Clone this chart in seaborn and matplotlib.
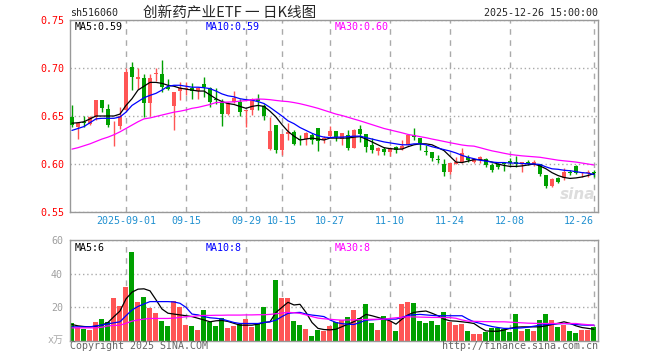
import numpy as np
import pandas as pd
import seaborn as sns
import matplotlib.pyplot as plt

sns.set_style('white')
plt.rcParams['font.family'] = ['DejaVu Sans Mono', 'Noto Sans CJK SC']

# daily K-line data, 2025-08-19 .. 2025-12-26
opens = [0.649, 0.6382, 0.644, 0.6417, 0.6493, 0.6667, 0.6573, 0.6392, 0.6396, 0.6563, 0.7007,
         0.6885, 0.690, 0.6632, 0.6938, 0.6938, 0.6806, 0.6608, 0.676, 0.6778, 0.6788, 0.6764,
         0.6833, 0.6788, 0.667, 0.665, 0.6517, 0.665, 0.665, 0.6552, 0.6563, 0.6674, 0.6604,
         0.6157, 0.6406, 0.6146, 0.6309, 0.6337, 0.6254, 0.6261, 0.6302, 0.6372, 0.625, 0.6292,
         0.6344, 0.6257, 0.6302, 0.617, 0.6361, 0.6313, 0.6198, 0.6139, 0.6153, 0.6129, 0.6174,
         0.6153, 0.6198, 0.6302, 0.6267, 0.6129, 0.6129, 0.6049, 0.600, 0.592, 0.600, 0.6025,
         0.6076, 0.6024, 0.6042, 0.6049, 0.599, 0.600, 0.6007, 0.6035, 0.6024, 0.600, 0.6017,
         0.599, 0.5999, 0.5885, 0.5771, 0.5851, 0.5851, 0.592, 0.5979, 0.5903, 0.5903, 0.592]
highs = [0.6615, 0.6435, 0.650, 0.6497, 0.6667, 0.6667, 0.662, 0.6452, 0.659, 0.6997, 0.706,
         0.6997, 0.6934, 0.6934, 0.6997, 0.7083, 0.689, 0.6747, 0.685, 0.6854, 0.684, 0.680,
         0.691, 0.6806, 0.679, 0.6674, 0.6649, 0.6764, 0.6674, 0.656, 0.6684, 0.673, 0.6621,
         0.649, 0.6406, 0.6313, 0.6424, 0.6354, 0.6302, 0.6337, 0.632, 0.6372, 0.6292, 0.6396,
         0.6344, 0.6327, 0.6354, 0.6361, 0.6406, 0.6313, 0.6267, 0.6174, 0.6174, 0.6174, 0.6188,
         0.625, 0.6302, 0.6372, 0.6267, 0.6198, 0.6129, 0.6094, 0.6049, 0.6007, 0.6076, 0.6163,
         0.6094, 0.6059, 0.6083, 0.6059, 0.6007, 0.6014, 0.6014, 0.6059, 0.6083, 0.6017, 0.6042,
         0.6042, 0.5999, 0.5885, 0.5851, 0.5868, 0.5955, 0.5938, 0.599, 0.592, 0.5938, 0.5938]
lows = [0.639, 0.626, 0.639, 0.6407, 0.646, 0.6538, 0.639, 0.619, 0.636, 0.6563, 0.677,
        0.678, 0.649, 0.650, 0.686, 0.675, 0.677, 0.6355, 0.6667, 0.6719, 0.668, 0.668,
        0.6701, 0.6597, 0.663, 0.6396, 0.651, 0.6632, 0.650, 0.639, 0.651, 0.656, 0.646,
        0.615, 0.6118, 0.6094, 0.625, 0.6198, 0.6198, 0.6198, 0.6208, 0.614, 0.6222, 0.6285,
        0.6243, 0.6198, 0.6146, 0.6163, 0.6233, 0.6129, 0.6111, 0.6094, 0.6094, 0.6083, 0.6111,
        0.6146, 0.6198, 0.625, 0.6146, 0.6094, 0.6035, 0.6007, 0.5878, 0.5899, 0.600, 0.6007,
        0.6024, 0.6007, 0.6007, 0.5972, 0.592, 0.5944, 0.5931, 0.5986, 0.5972, 0.592, 0.599,
        0.598, 0.5875, 0.5747, 0.5757, 0.5799, 0.5833, 0.5885, 0.5896, 0.5868, 0.5868, 0.5868]
closes = [0.6407, 0.6431, 0.643, 0.6487, 0.6667, 0.658, 0.6407, 0.6396, 0.6504, 0.6962, 0.691,
          0.6906, 0.6632, 0.690, 0.6945, 0.6806, 0.6778, 0.6747, 0.6788, 0.6788, 0.676, 0.6788,
          0.6799, 0.6649, 0.6665, 0.6517, 0.6632, 0.6684, 0.6545, 0.6556, 0.6674, 0.6656, 0.650,
          0.6344, 0.6146, 0.6313, 0.6337, 0.6209, 0.625, 0.632, 0.625, 0.6243, 0.6275, 0.6344,
          0.6278, 0.632, 0.617, 0.6354, 0.6313, 0.6181, 0.6146, 0.6163, 0.6129, 0.6163, 0.6146,
          0.6188, 0.6302, 0.6285, 0.6215, 0.6125, 0.6067, 0.6045, 0.592, 0.6007, 0.6024, 0.6111,
          0.6042, 0.6049, 0.607, 0.599, 0.5938, 0.5965, 0.5997, 0.6007, 0.600, 0.6017, 0.600,
          0.6017, 0.5896, 0.5771, 0.584, 0.5816, 0.592, 0.591, 0.5903, 0.5913, 0.592, 0.5903]
volume = [10.8, 8, 7.4, 6.4, 11.4, 13, 11.4, 25.8, 21, 31.8, 52.8,
          23.2, 26.4, 19.8, 16.6, 11.8, 9, 23.8, 20.4, 9.6, 9, 6.6,
          18.4, 11, 9, 13.4, 7.8, 9, 10, 13, 8.4, 10, 20.4,
          7.2, 36, 25.8, 25.8, 11.8, 9.8, 7, 3, 6.4, 6.2, 9,
          11.4, 12.4, 14.4, 18.4, 13.4, 22, 10.8, 6.4, 14.8, 11.8, 5.8,
          22, 23.2, 22.6, 11.8, 10.6, 11.8, 9.4, 17.2, 11.4, 9.4, 10,
          5.8, 4, 4, 5.4, 7.8, 7.8, 7.4, 5.4, 16, 5.8, 7.4,
          5.8, 12.4, 16, 12.4, 8.4, 9.8, 5.8, 4.6, 6.4, 6.4, 8.4]

# moving averages as shown on the chart
ma5 = [0.6425, 0.643, 0.644, 0.647, 0.650, 0.650, 0.650, 0.650, 0.652, 0.661, 0.668,
       0.677, 0.681, 0.685, 0.685, 0.684, 0.682, 0.681, 0.679, 0.678, 0.677, 0.676,
       0.676, 0.672, 0.668, 0.665, 0.663, 0.662, 0.660, 0.658, 0.660, 0.661, 0.660,
       0.655, 0.649, 0.641, 0.634, 0.629, 0.625, 0.626, 0.627, 0.626, 0.625, 0.627,
       0.627, 0.627, 0.627, 0.628, 0.6285, 0.626, 0.623, 0.620, 0.617, 0.616, 0.6155,
       0.6155, 0.618, 0.620, 0.621, 0.621, 0.620, 0.617, 0.614, 0.608, 0.602, 0.6015,
       0.603, 0.6045, 0.6045, 0.6035, 0.602, 0.600, 0.5985, 0.5975, 0.5975, 0.598, 0.599,
       0.600, 0.598, 0.595, 0.591, 0.588, 0.586, 0.585, 0.5855, 0.5865, 0.588, 0.590]
ma10 = [0.635, 0.637, 0.639, 0.643, 0.647, 0.6476, 0.6476, 0.6476, 0.649, 0.654, 0.661,
        0.665, 0.669, 0.6715, 0.6736, 0.677, 0.681, 0.682, 0.682, 0.681, 0.680, 0.680,
        0.6795, 0.6785, 0.676, 0.673, 0.671, 0.670, 0.668, 0.667, 0.6665, 0.665, 0.663,
        0.659, 0.6545, 0.650, 0.645, 0.642, 0.638, 0.635, 0.632, 0.6295, 0.628, 0.6275,
        0.628, 0.628, 0.6285, 0.629, 0.629, 0.6275, 0.626, 0.6245, 0.623, 0.622, 0.621,
        0.620, 0.620, 0.621, 0.621, 0.620, 0.618, 0.6165, 0.615, 0.6135, 0.6115, 0.609,
        0.607, 0.6055, 0.604, 0.603, 0.602, 0.6015, 0.6015, 0.601, 0.601, 0.6005, 0.6003,
        0.600, 0.5995, 0.597, 0.595, 0.5945, 0.5935, 0.593, 0.592, 0.591, 0.5905, 0.589]
ma30 = [0.6155, 0.617, 0.619, 0.621, 0.6235, 0.626, 0.628, 0.6305, 0.6335, 0.637, 0.6405,
        0.644, 0.647, 0.648, 0.6495, 0.651, 0.6525, 0.654, 0.655, 0.6563, 0.658, 0.659,
        0.6605, 0.662, 0.664, 0.6643, 0.6645, 0.6648, 0.6655, 0.666, 0.667, 0.6677, 0.6675,
        0.667, 0.6662, 0.6655, 0.665, 0.664, 0.6628, 0.6613, 0.6597, 0.658, 0.656, 0.654,
        0.652, 0.6505, 0.6487, 0.6468, 0.645, 0.643, 0.641, 0.639, 0.637, 0.6355, 0.634,
        0.6325, 0.6308, 0.6297, 0.6285, 0.6274, 0.626, 0.6248, 0.6235, 0.6222, 0.621, 0.6198,
        0.619, 0.6186, 0.617, 0.6153, 0.6137, 0.6125, 0.6112, 0.610, 0.6092, 0.6085, 0.608,
        0.6075, 0.607, 0.606, 0.605, 0.604, 0.6033, 0.6027, 0.602, 0.601, 0.600, 0.599]
vma5 = [9.8, 9, 8.6, 8.4, 8.8, 9.4, 11, 14.5, 17.8, 25, 29,
        30.8, 31, 29.8, 24.5, 19, 16.5, 16, 15.5, 15, 14.5, 13.5,
        12.5, 11.4, 12, 12.2, 11.6, 10.5, 9.4, 9.4, 9.4, 10, 11,
        11.4, 17, 20, 23, 21.4, 21.8, 17, 11, 7.5, 6.8, 6.6,
        7, 8.5, 10, 11.5, 13.5, 15.8, 15, 14, 13, 12, 10,
        13, 15.5, 17, 17.5, 17.8, 16.5, 15, 13, 12, 11.8, 11.4,
        11, 10.4, 8, 6, 5.8, 5.8, 6.5, 7.5, 8.2, 8.4, 8.4,
        8.4, 8.4, 9, 9.8, 10.5, 11.4, 10.5, 9, 8, 7.5, 7]
vma10 = [8.4, 8.4, 8.4, 8.4, 9, 9.5, 10.2, 10.8, 11.4, 15, 18.4,
         20.5, 22, 23.4, 23.4, 23.4, 23.4, 23.2, 22.4, 20, 16, 15.5,
         14.5, 13.8, 13.5, 13, 12, 11, 10.4, 10.4, 10.4, 10.4, 11,
         11.4, 12.4, 14.5, 16.4, 16.8, 17, 16, 15.4, 15, 14.5, 12.5,
         11, 10.3, 10, 9.8, 11, 12.4, 12.6, 12.8, 13, 13, 13,
         14, 15.2, 15.6, 15.8, 15.5, 15.2, 15, 15, 15, 15, 15,
         13, 11.4, 10.5, 9.5, 8.6, 8, 7.5, 7.5, 7.6, 7.8, 8.2,
         8.8, 9.4, 9.8, 10, 10.2, 10.4, 10.2, 9.8, 9.5, 9.4, 9.4]
vma30 = [7.8, 7.8, 7.8, 7.8, 7.8, 8.2, 9, 9.2, 9.4, 10.5, 11.8,
         12.5, 13, 13.4, 13.4, 13.4, 13.4, 13.6, 14, 14.4, 14.6, 15,
         15.2, 15.2, 15.3, 15.3, 15.4, 15.4, 15.4, 15.5, 15.5, 15.6, 15.6,
         15.8, 16.2, 16.6, 17, 16.8, 16.4, 15.5, 14.5, 13.6, 13.2, 12.9,
         12.6, 12.4, 12.5, 12.6, 12.7, 12.8, 12.9, 12.9, 13, 13.4, 13.8,
         14.1, 14.4, 14.3, 14.2, 14.1, 14, 14, 13.9, 13.9, 13.5, 12.5,
         11.8, 11.7, 11.6, 11.5, 11.5, 11.4, 11.4, 11.2, 11, 10.8, 10.6,
         10.5, 10.4, 10.4, 10.4, 10.4, 10.4, 10.4, 10.4, 10, 9.7, 9.4]

tick_dates = ['2025-09-01', '2025-09-15', '2025-09-29', '2025-10-15', '2025-10-27',
              '2025-11-10', '2025-11-24', '2025-12-08', '2025-12-26']
tick_labels = ['2025-09-01', '09-15', '09-29', '10-15', '10-27', '11-10', '11-24', '12-08', '12-26']

# trading days (National Day holiday removed)
dates = pd.bdate_range('2025-08-19', '2025-12-26')
dates = dates[(dates < '2025-10-01') | (dates > '2025-10-08')]
df = pd.DataFrame({'open': opens, 'high': highs, 'low': lows, 'close': closes,
                   'vol': volume}, index=dates)
df['i'] = np.arange(len(df))
df['dir'] = np.where(df['close'] > df['open'], 'up', 'down')
tick_pos = [df.index.get_loc(pd.Timestamp(d)) for d in tick_dates]

RED = '#FF5555'
GREEN = '#00A000'
GRID = '#AAAAAA'
colors = [RED if d == 'up' else GREEN for d in df['dir']]

fig = plt.figure(figsize=(6.6, 3.6), dpi=100)
ax = fig.add_axes([70 / 660, 148 / 360, 528 / 660, 192 / 360])
axv = fig.add_axes([70 / 660, 19 / 360, 528 / 660, 101 / 360])

# candles
ax.vlines(df['i'], df['low'], df['high'], color=colors, lw=1, zorder=2)
body = np.maximum((df['close'] - df['open']).abs(), 0.0007)
ax.bar(df['i'], body, bottom=np.minimum(df['open'], df['close']), width=0.8,
       color=colors, linewidth=0, zorder=3)

sns.lineplot(x=df['i'], y=ma5, ax=ax, color='black', linewidth=0.9, zorder=4)
sns.lineplot(x=df['i'], y=ma10, ax=ax, color='#0000FF', linewidth=0.9, zorder=4)
sns.lineplot(x=df['i'], y=ma30, ax=ax, color='#FF00FF', linewidth=0.9, zorder=4)

# volume
sns.barplot(data=df, x='i', y='vol', hue='dir', palette={'up': RED, 'down': GREEN},
            native_scale=True, dodge=False, width=0.83, saturation=1, linewidth=0,
            legend=False, ax=axv, zorder=2)
sns.lineplot(x=df['i'], y=vma5, ax=axv, color='black', linewidth=0.9, zorder=4)
sns.lineplot(x=df['i'], y=vma10, ax=axv, color='#0000FF', linewidth=0.9, zorder=4)
sns.lineplot(x=df['i'], y=vma30, ax=axv, color='#FF00FF', linewidth=0.9, zorder=4)

for a in (ax, axv):
    a.set_xlim(-0.33, 87.67)
    a.set_xticks(tick_pos)
    a.set_axisbelow(True)
    a.grid(axis='x', linestyle=(0, (4, 4)), color=GRID, lw=1)
    a.grid(axis='y', linestyle=(0, (1, 2)), color=GRID, lw=1)
    a.tick_params(length=0, labelsize=7.2)
    a.set_xlabel('')
    a.set_ylabel('')
    for s in a.spines.values():
        s.set_color('#999999')
        s.set_linewidth(1)

ax.set_ylim(0.55, 0.75)
ax.set_yticks([0.55, 0.60, 0.65, 0.70, 0.75])
ax.set_yticklabels(['0.55', '0.60', '0.65', '0.70', '0.75'], color='#FF0000')
ax.set_xticklabels(tick_labels, color='#2090D0')
ax.tick_params(axis='y', pad=4)
ax.tick_params(axis='x', pad=3)
ax.get_xticklabels()[-1].set_horizontalalignment('right')

axv.set_ylim(0, 60)
axv.set_yticks([0, 20, 40, 60])
axv.set_yticklabels(['', '20', '40', '60'], color='#A0A0A0')
axv.set_xticklabels([])
axv.tick_params(axis='y', pad=5)

# legends inside the panels
ax.text(0.008, 0.99, 'MA5:0.59', transform=ax.transAxes, va='top', fontsize=7.2, color='black')
ax.text(0.256, 0.99, 'MA10:0.59', transform=ax.transAxes, va='top', fontsize=7.2, color='#0000FF')
ax.text(0.502, 0.99, 'MA30:0.60', transform=ax.transAxes, va='top', fontsize=7.2, color='#FF00FF')
axv.text(0.008, 0.97, 'MA5:6', transform=axv.transAxes, va='top', fontsize=7.2, color='black')
axv.text(0.256, 0.97, 'MA10:8', transform=axv.transAxes, va='top', fontsize=7.2, color='#0000FF')
axv.text(0.502, 0.97, 'MA30:8', transform=axv.transAxes, va='top', fontsize=7.2, color='#FF00FF')
ax.text(0.995, 0.05, 'sina', transform=ax.transAxes, ha='right', va='bottom', fontsize=11,
        fontweight='bold', style='italic', color='#DDDDDD', family='DejaVu Sans')

# header and footer
fig.text(70 / 660, 1 - 13 / 360, 'sh516060', fontsize=7.2, va='center', ha='left')
fig.text(230 / 660, 1 - 13 / 360, '创新药产业ETF 一 日K线图', fontsize=10.5, va='center',
         ha='center', family=['Noto Sans CJK SC', 'DejaVu Sans'])
fig.text(598 / 660, 1 - 13 / 360, '2025-12-26 15:00:00', fontsize=7.2, va='center', ha='right')
fig.text(70 / 660, 14 / 360, 'Copyright 2025 SINA.COM', fontsize=7.2, va='center',
         ha='left', color='#666666')
fig.text(598 / 660, 14 / 360, 'http://finance.sina.com.cn', fontsize=7.2, va='center',
         ha='right', color='#666666')
fig.text(64 / 660, 20 / 360, 'x万', fontsize=7.2, va='center', ha='right', color='#AAAAAA',
         family=['DejaVu Sans Mono', 'Noto Sans CJK SC'])

fig.savefig('out.png', dpi=100)
